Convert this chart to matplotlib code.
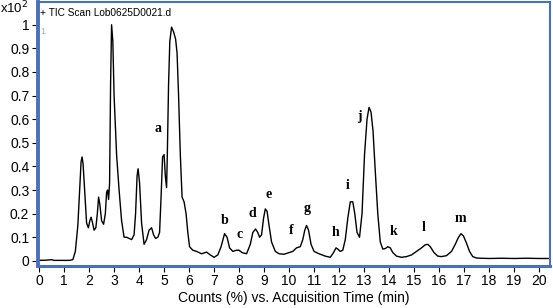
import numpy as np
import matplotlib.pyplot as plt

# retention time (min) and counts (x10^2)
t = [0.0, 0.3, 0.5, 0.6, 0.8, 1.0, 1.2, 1.35, 1.45, 1.55, 1.62, 1.68, 1.72, 1.76, 1.82, 1.9, 1.97,
     2.03, 2.08, 2.14, 2.2, 2.27, 2.33, 2.38, 2.43, 2.5, 2.58, 2.65, 2.7, 2.74, 2.78, 2.82, 2.86,
     2.9, 2.95, 3.0, 3.1, 3.2, 3.3, 3.4, 3.5, 3.6, 3.7, 3.8, 3.86, 3.92, 3.96, 4.02, 4.1, 4.2,
     4.3, 4.4, 4.5, 4.58, 4.66, 4.75, 4.82, 4.88, 4.94, 5.0, 5.05, 5.1, 5.13, 5.18, 5.23, 5.3,
     5.38, 5.46, 5.52, 5.58, 5.65, 5.72, 5.8, 5.88, 5.95, 6.02, 6.15, 6.3, 6.5, 6.7, 6.85, 7.0,
     7.15, 7.28, 7.42, 7.52, 7.62, 7.75, 7.9, 8.0, 8.12, 8.3, 8.45, 8.55, 8.66, 8.75, 8.82,
     8.9, 8.98, 9.05, 9.12, 9.2, 9.3, 9.45, 9.6, 9.8, 10.0, 10.15, 10.3, 10.45, 10.55, 10.63,
     10.7, 10.78, 10.88, 11.0, 11.2, 11.45, 11.65, 11.78, 11.88, 11.95, 12.05, 12.15, 12.25,
     12.35, 12.45, 12.55, 12.63, 12.72, 12.82, 12.92, 13.02, 13.12, 13.2, 13.28, 13.36, 13.45,
     13.55, 13.65, 13.75, 13.85, 13.95, 14.05, 14.15, 14.3, 14.5, 14.7, 14.9, 15.1, 15.3, 15.45,
     15.55, 15.65, 15.8, 15.95, 16.1, 16.3, 16.5, 16.65, 16.78, 16.88, 16.98, 17.1, 17.22,
     17.35, 17.5, 17.7, 18.0, 18.5, 19.0, 19.5, 20.0, 20.45]
counts = [0.002, 0.003, 0.005, 0.002, 0.002, 0.002, 0.002, 0.005, 0.04, 0.15, 0.3, 0.42, 0.44,
          0.41, 0.3, 0.16, 0.14, 0.17, 0.185, 0.16, 0.13, 0.14, 0.2, 0.27, 0.24, 0.17, 0.155,
          0.2, 0.29, 0.3, 0.26, 0.33, 0.75, 1.0, 0.93, 0.7, 0.45, 0.3, 0.17, 0.1, 0.1, 0.095,
          0.09, 0.11, 0.2, 0.36, 0.39, 0.33, 0.16, 0.07, 0.09, 0.13, 0.14, 0.11, 0.095, 0.1,
          0.12, 0.27, 0.44, 0.45, 0.36, 0.31, 0.45, 0.75, 0.93, 0.99, 0.97, 0.94, 0.88, 0.7,
          0.45, 0.27, 0.25, 0.2, 0.12, 0.06, 0.045, 0.04, 0.03, 0.037, 0.025, 0.015, 0.025,
          0.06, 0.115, 0.1, 0.055, 0.04, 0.045, 0.045, 0.035, 0.03, 0.07, 0.12, 0.135, 0.12,
          0.1, 0.11, 0.18, 0.22, 0.21, 0.15, 0.08, 0.04, 0.03, 0.028, 0.035, 0.04, 0.055, 0.06,
          0.09, 0.13, 0.15, 0.13, 0.07, 0.04, 0.03, 0.02, 0.015, 0.035, 0.055, 0.05, 0.04,
          0.045, 0.09, 0.18, 0.25, 0.25, 0.2, 0.12, 0.1, 0.2, 0.45, 0.6, 0.65, 0.63, 0.55,
          0.38, 0.2, 0.08, 0.05, 0.052, 0.06, 0.055, 0.035, 0.02, 0.015, 0.018, 0.025, 0.04,
          0.055, 0.068, 0.07, 0.06, 0.035, 0.02, 0.018, 0.022, 0.04, 0.07, 0.1, 0.115, 0.105,
          0.075, 0.04, 0.018, 0.012, 0.011, 0.01, 0.011, 0.01, 0.011, 0.01, 0.01]

peak_names = list("abcdefghijklm")
peak_x = [4.74, 7.42, 8.01, 8.55, 9.2, 10.07, 10.74, 11.86, 12.33, 12.82, 14.19, 15.4, 16.87]
peak_y = [0.56, 0.17, 0.11, 0.2, 0.28, 0.13, 0.22, 0.12, 0.32, 0.61, 0.126, 0.14, 0.18]

blue = '#4a70b8'
fig = plt.figure(figsize=(5.53, 3.08), dpi=100)
ax = fig.add_axes([0.068, 0.137, 0.927, 0.857])
ax.plot(t, counts, color='black', lw=1.0)

for n, x, y in zip(peak_names, peak_x, peak_y):
    ax.text(x, y, n, family='Liberation Serif', weight='bold', fontsize=10,
            ha='center', va='center')

ax.text(0.004, 0.975, '+ TIC Scan Lob0625D0021.d', transform=ax.transAxes,
        fontsize=7.3, family='Liberation Sans', va='top', ha='left')
ax.text(0.006, 0.905, '1', transform=ax.transAxes, fontsize=6.5,
        color='#aaaaaa', va='top', ha='left', family='Liberation Sans')

ax.set_xlim(-0.06, 20.45)
ax.set_ylim(-0.021, 1.097)
ax.set_xticks(range(0, 21))
ax.set_yticks(np.arange(0, 1.01, 0.1))
ax.set_yticklabels(['0', '0.1', '0.2', '0.3', '0.4', '0.5', '0.6', '0.7', '0.8', '0.9', '1'])
for lab in ax.get_xticklabels() + ax.get_yticklabels():
    lab.set_family('Liberation Sans')
ax.tick_params(axis='both', labelsize=10, length=4, width=0.8, color='black', pad=2)
ax.set_xlabel('Counts (%) vs. Acquisition Time (min)', family='Liberation Sans',
              fontsize=10, labelpad=2)

for s in ax.spines.values():
    s.set_color(blue)
    s.set_linewidth(1.5)
ax.spines['left'].set_linewidth(2.8)
ax.spines['bottom'].set_linewidth(2.2)

fig.text(0.0, 1.0, 'x10$^2$', family='Liberation Sans', fontsize=9.5, va='top', ha='left')

fig.savefig('out.png', dpi=100)
